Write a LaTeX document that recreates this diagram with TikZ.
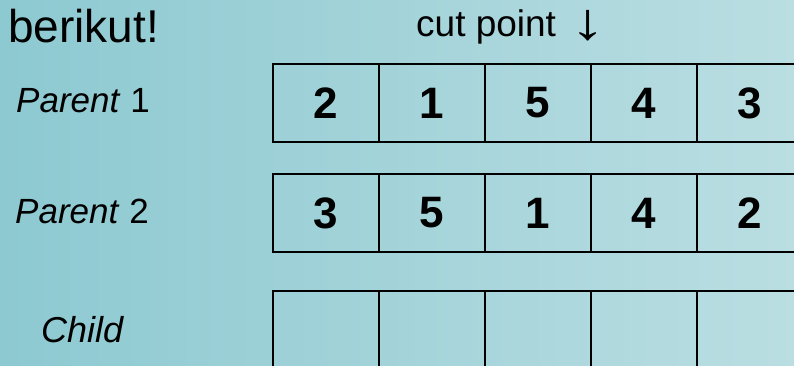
\documentclass[tikz,border=0pt]{standalone}
\usepackage{fontspec}
\usepackage{graphicx}
\setmainfont{Liberation Sans}
\tikzset{
  cellbox/.style={draw=black, line width=2.5pt, minimum width=106pt, minimum height=78pt, inner sep=0pt, anchor=center, font=\fontsize{44}{50}\selectfont\bfseries},
  lbl/.style={anchor=base west, inner sep=0pt, font=\fontsize{35}{40}\selectfont},
}
\begin{document}
\begin{tikzpicture}[x=1pt, y=-1pt]
\path[use as bounding box] (0,0) rectangle (794,366);
\clip (0,0) rectangle (794,366);
\shade[left color={rgb,255:red,141;green,201;blue,209}, right color={rgb,255:red,186;green,222;blue,226}] (0,0) rectangle (794,366);
\node[anchor=base west, inner sep=0pt, font=\fontsize{46}{54}\selectfont] (title) at (8,43) {berikut!};
\node[anchor=base west, inner sep=0pt, font=\fontsize{37}{40}\selectfont] (cut) at (416,37) {cut point\hspace{14pt}\raisebox{-3pt}{\scalebox{1.9}[1.4]{↓}}};
\node[lbl] (lp1) at (16,113) {\textit{Parent} 1};
\node[lbl] (lp2) at (15,223) {\textit{Parent} 2};
\node[lbl, font=\fontsize{36}{40}\selectfont] (lch) at (41,342) {\textit{Child}};
\foreach \i/\a/\b in {0/2/3, 1/1/5, 2/5/1, 3/4/4, 4/3/2} {
  \node[cellbox] (pa\i) at (326+106*\i,103) {\a};
  \node[cellbox] (pb\i) at (326+106*\i,213) {\b};
  \node[cellbox] (ch\i) at (326+106*\i,330) {};
}
\end{tikzpicture}
\end{document}
